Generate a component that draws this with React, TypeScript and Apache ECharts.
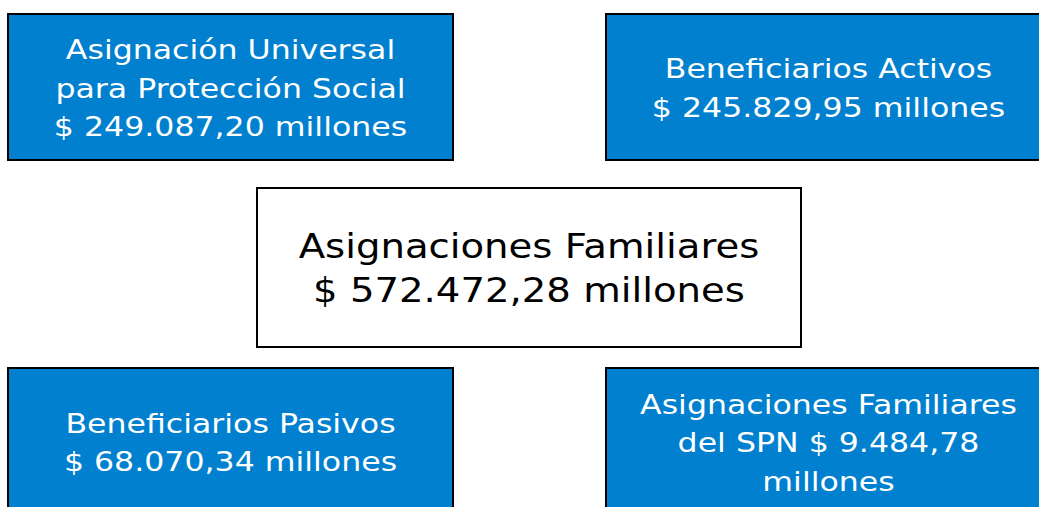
import React, { useEffect, useRef } from "react";
import * as echarts from "echarts";

const titles = [
  "Asignación Universal\npara Protección Social",
  "Beneficiarios Activos",
  "Asignaciones Familiares",
  "Beneficiarios Pasivos",
  "Asignaciones Familiares\ndel SPN",
];
const values = ["249.087,20", "245.829,95", "572.472,28", "68.070,34", "9.484,78"];
const unit = "millones";

export default function App() {
  const ref = useRef<HTMLDivElement>(null);
  useEffect(() => {
    document.body.style.margin = "0";
    const chart = echarts.init(ref.current!, undefined, { renderer: "svg" });
    const font = "'DejaVu Sans', sans-serif";
    const blue = "#0080CF";
    const boxes = [
      { x: 8, y: 14, w: 445, h: 146, fill: blue, color: "#fff", text: `${titles[0]}\n$ ${values[0]} ${unit}`, size: 27, lh: 38.5, sx: 1.17 },
      { x: 606, y: 14, w: 447, h: 146, fill: blue, color: "#fff", text: `${titles[1]}\n$ ${values[1]} ${unit}`, size: 27, lh: 38.5, sx: 1.17 },
      { x: 257, y: 188, w: 544, h: 159, fill: "#fff", color: "#000", text: `${titles[2]}\n$ ${values[2]} ${unit}`, size: 33, lh: 44, sx: 1.17 },
      { x: 8, y: 368, w: 445, h: 147, fill: blue, color: "#fff", text: `${titles[3]}\n$ ${values[3]} ${unit}`, size: 27, lh: 38.5, sx: 1.17 },
      { x: 606, y: 368, w: 447, h: 147, fill: blue, color: "#fff", text: `${titles[4]} $ ${values[4]}\n${unit}`, size: 27, lh: 38.5, sx: 1.17 },
    ];
    const elements: any[] = [];
    boxes.forEach((b) => {
      elements.push({
        type: "rect",
        shape: { x: b.x, y: b.y, width: b.w, height: b.h },
        style: { fill: b.fill, stroke: "#000", lineWidth: 2 },
      });
      elements.push({
        type: "text",
        x: b.x + b.w / 2 + (b.x === 606 ? -1 : 0),
        y: b.y + b.h / 2 + 1.5,
        scaleX: b.sx,
        style: {
          text: b.text,
          fill: b.color,
          fontSize: b.size,
          fontFamily: font,
          textAlign: "center",
          textVerticalAlign: "middle",
          lineHeight: b.lh,
        },
      });
    });
    chart.setOption({ animation: false, graphic: { elements } });
    return () => chart.dispose();
  }, []);
  return <div ref={ref} style={{ width: 1039, height: 507 }} />;
}
